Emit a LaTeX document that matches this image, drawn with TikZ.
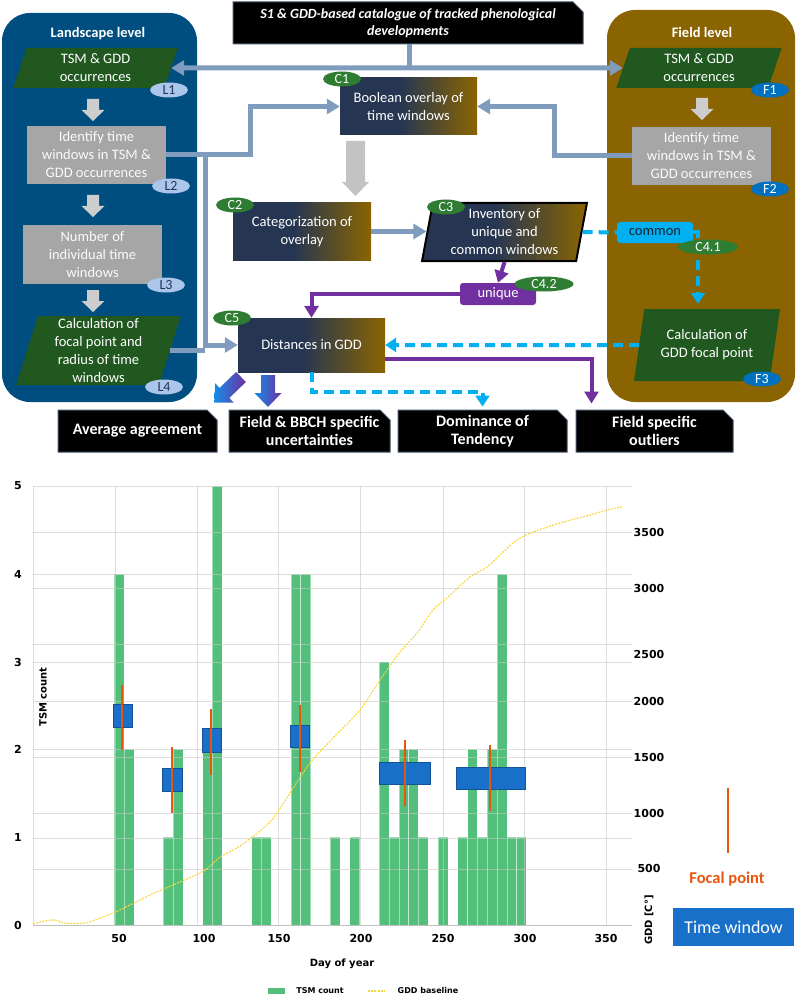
\documentclass[tikz,border=0pt]{standalone}
\usepackage{fontspec}
\setmainfont{Carlito}
\newfontfamily\chartfont{DejaVu Sans}
\usetikzlibrary{arrows.meta,shapes.geometric,shapes.misc}

\definecolor{landblue}{RGB}{0,77,128}
\definecolor{fieldbrown}{RGB}{138,100,0}
\definecolor{leafgreen}{RGB}{32,88,32}
\definecolor{boxgrey}{RGB}{166,166,166}
\definecolor{arrowgrey}{RGB}{205,205,205}
\definecolor{tagblue}{RGB}{170,198,234}
\definecolor{tagdeep}{RGB}{0,112,192}
\definecolor{taggreen}{RGB}{46,125,50}
\definecolor{linkblue}{RGB}{127,156,190}
\definecolor{linkpurple}{RGB}{112,48,160}
\definecolor{linkcyan}{RGB}{0,176,240}
\definecolor{mixnavy}{RGB}{38,54,82}
\definecolor{outline}{RGB}{68,84,106}
\definecolor{tsmgreen}{RGB}{82,192,122}
\definecolor{gddyellow}{RGB}{246,214,60}
\definecolor{windowblue}{RGB}{24,112,200}
\definecolor{focalorange}{RGB}{232,85,15}
\definecolor{gradblue}{RGB}{20,140,230}

\pgfdeclarehorizontalshading{navytobrown}{100bp}{color(0bp)=(mixnavy); color(25bp)=(mixnavy); color(47bp)=(mixnavy); color(75bp)=(fieldbrown); color(100bp)=(fieldbrown)}

\newcommand\boxfont{\fontsize{14.5}{18}\selectfont}
% block arrow: [style](tail)(angle:length:shaft:head width:head length)
\def\blockarrow[#1](#2)(#3:#4:#5:#6:#7){\path[#1, shift={(#2)}, rotate=#3] (0,{-#5/2}) -- ({#4-#7},{-#5/2}) -- ({#4-#7},{-#6/2}) -- (#4,0) -- ({#4-#7},{#6/2}) -- ({#4-#7},{#5/2}) -- (0,{#5/2}) -- cycle;}

\tikzset{
  databox/.style={trapezium, trapezium left angle=76, trapezium right angle=104, trapezium stretches=true, fill=leafgreen, text=white, align=center, inner sep=0pt, font=\boxfont},
  greybox/.style={rectangle, fill=boxgrey, text=white!94!boxgrey, align=center, inner sep=0pt, font=\boxfont},
  mixbox/.style={rectangle, shading=navytobrown, text=white, align=center, inner sep=0pt, font=\boxfont},
  tag/.style={ellipse, inner sep=0pt, minimum width=38pt, minimum height=15pt, font=\fontsize{14}{14}\selectfont},
  tagL/.style={tag, fill=tagblue, text=mixnavy},
  tagF/.style={tag, fill=tagdeep, text=white},
  tagC/.style={tag, fill=taggreen, text=white},
  outbox/.style={chamfered rectangle, chamfered rectangle corners=north east, chamfered rectangle xsep=5pt, chamfered rectangle ysep=5pt, fill=black, draw=outline, line width=1pt, text=white, align=center, inner sep=0pt, minimum height=42pt, font=\bfseries\fontsize{16}{18}\selectfont},
  gradfill/.style={left color=gradblue, right color=linkpurple},
  pipe/.style={draw=linkblue, line width=5pt, -{Triangle[length=13pt,width=15pt]}},
  purp/.style={draw=linkpurple, line width=4pt, -{Triangle[length=12pt,width=14pt]}},
  cyandash/.style={draw=linkcyan, line width=4pt, dash pattern=on 10pt off 6pt, -{Triangle[length=11pt,width=14pt]}},
  gridline/.style={draw=black!22, opacity=0.6, line width=0.8pt},
  focal/.style={draw=focalorange, line width=2.6pt},
  window/.style={fill=windowblue, draw=windowblue!75!black, line width=0.8pt},
  axisnum/.style={font=\chartfont\bfseries\fontsize{11}{11}\selectfont, inner sep=0pt},
  axistitle/.style={font=\chartfont\bfseries\fontsize{10}{10}\selectfont, inner sep=0pt}
}

\begin{document}
\begin{tikzpicture}[x=1pt,y=-1pt]
%%%%% FRAME %%%%%
\useasboundingbox (0,0) rectangle (796,1000);

%%%%% PANELS %%%%%
\fill[landblue, rounded corners=28pt] (2,13) rectangle (197,402);
\fill[fieldbrown, rounded corners=28pt] (607,10) rectangle (795,402);
\node[text=white, font=\bfseries\fontsize{14.5}{17}\selectfont] (landtitle) at (98,34) {Landscape level};
\node[text=white, font=\bfseries\fontsize{14.5}{17}\selectfont] (fieldtitle) at (702,32) {Field level};

\node[outbox, minimum width=350pt, font=\bfseries\itshape\fontsize{14}{17}\selectfont] (catalog) at (408,23) {S1 \& GDD-based catalogue of tracked phenological\\developments};

%%%%% LANDSCAPE LEVEL %%%%%
\node[databox, minimum width=165pt, minimum height=40pt] (l1) at (95.5,68) {TSM \& GDD\\occurrences};
\node[greybox, minimum width=139pt, minimum height=58pt] (l2) at (96.5,155) {Identify time\\windows in TSM \&\\GDD occurrences};
\node[greybox, minimum width=139pt, minimum height=59pt] (l3) at (92.5,254.5) {Number of\\individual time\\windows};
\node[databox, minimum width=165pt, minimum height=69pt] (l4) at (98.5,350.5) {Calculation of\\focal point and\\radius of time\\windows};
\blockarrow[fill=arrowgrey](93,99)(-90:22:12:23:11)
\blockarrow[fill=arrowgrey](93,195)(-90:22:12:23:11)
\blockarrow[fill=arrowgrey](93,290)(-90:22:12:23:11)
\node[tagL] (tl1) at (169,90) {L1};
\node[tagL] (tl2) at (171,186) {L2};
\node[tagL] (tl3) at (166,285) {L3};
\node[tagL] (tl4) at (164,387) {L4};

%%%%% FIELD LEVEL %%%%%
\node[databox, minimum width=166pt, minimum height=40pt] (f1) at (699,68) {TSM \& GDD\\occurrences};
\node[greybox, minimum width=139pt, minimum height=58pt] (f2) at (701.5,156) {Identify time\\windows in TSM \&\\GDD occurrences};
\node[databox, minimum width=146pt, minimum height=72pt] (f3) at (707,345) {Calculation of\\GDD focal point};
\blockarrow[fill=arrowgrey](702,98)(-90:22:12:23:11)
\node[tagF] (tf1) at (770,90) {F1};
\node[tagF] (tf2) at (770,189) {F2};
\node[tagF] (tf3) at (762,379) {F3};

%%%%% COMBINATION %%%%%
\node[mixbox, minimum width=137pt, minimum height=57pt] (c1) at (408.5,106.5) {Boolean overlay of\\time windows};
\node[mixbox, minimum width=138pt, minimum height=57pt] (c2) at (302,231.5) {Categorization of\\overlay};
\node[trapezium, trapezium left angle=80, trapezium right angle=100, trapezium stretches=true, shading=navytobrown, draw=black, line width=2pt, text=white, align=center, inner sep=0pt, font=\boxfont, minimum width=165pt, minimum height=58pt] (c3) at (504.5,232) {Inventory of\\unique and\\common windows};
\node[mixbox, minimum width=147pt, minimum height=54pt] (c5) at (311.5,345) {Distances in GDD};
\node[rectangle, rounded corners=3pt, fill=linkcyan, text=mixnavy!60!black, inner sep=0pt, minimum width=76pt, minimum height=21pt, font=\boxfont] (common) at (655,232.5) {common};
\node[rectangle, rounded corners=3pt, fill=linkpurple, text=white, inner sep=0pt, minimum width=76pt, minimum height=22pt, font=\boxfont] (unique) at (498,294) {unique};
\blockarrow[fill=arrowgrey!95!black](355.5,141)(-90:55:19:27:14)

%%%%% OUTPUTS %%%%%
\node[outbox, minimum width=159pt] (outavg) at (137.5,431) {Average agreement};
\node[outbox, minimum width=161pt] (outunc) at (309.5,431) {Field \& BBCH specific\\uncertainties};
\node[outbox, minimum width=169pt] (outdom) at (482.5,431) {Dominance of\\Tendency};
\node[outbox, minimum width=157pt] (outlier) at (654.5,431) {Field specific\\outliers};

%%%%% CONNECTORS %%%%%
\coordinate (hub) at (409,68);
\coordinate (split) at (205,155);
\draw[pipe, -] (catalog.south -| hub) -- (hub);
\draw[pipe] (hub) -- (l1.east);
\draw[pipe] (hub) -- (f1.west);
\draw[pipe] (l2.east) -- ++(84,0) |- (c1.west);
\draw[pipe] (split) |- (c5.west);
\draw[pipe, -] (l2.east) -- (split);
\draw[pipe, -] (l4.east) -- (l4.east -| split);
\draw[pipe] (f2.west) -- ++(-77,0) |- (c1.east);
\draw[pipe] (c2.east) -- (c2.east -| c3.west);

\draw[purp] (c3.south) -- (unique.north);
\draw[purp] (unique.west) -| (c5.north);
\draw[purp] ([yshift=-14pt]c5.east) -| ([xshift=16pt,yshift=6pt]outlier.north west);

\draw[cyandash, -] (c3.east) -- (common.west);
\draw[cyandash, shorten >=5pt] (common.east) -| ([xshift=-9pt]f3.north);
\draw[cyandash] (f3.west) -- (c5.east);
\draw[cyandash, shorten >=3pt] (c5.south) -- ++(0,20) -| (outdom.north);

\blockarrow[gradfill](241,377)(-136:37:14:27:14)
\blockarrow[gradfill](268,375)(-90:32:14:27:14)

%%%%% TAGS %%%%%
\node[tagC] (tc1) at (342,79) {C1};
\node[tagC] (tc2) at (235,205) {C2};
\node[tagC] (tc3) at (446,207) {C3};
\node[tagC] (tc5) at (232,318) {C5};
\node[tagC, minimum width=60pt] (tc41) at (708,247) {C4.1};
\node[tagC, minimum width=59pt] (tc42) at (544,284) {C4.2};

%%%%% CHART %%%%%
\foreach \k/\h in {0/4,1/2,5/1,6/2,9/2,10/5,14/1,15/1,18/4,19/4,22/1,24/1,27/3,28/1,29/2,30/2,31/1,33/1,35/1,36/2,37/1,38/2,39/4,40/1,41/1}
  \filldraw[fill=tsmgreen, draw=white, draw opacity=0.45, line width=0.6pt] ({33.2+1.636*(49.5+6*\k)},925) rectangle ({33.2+1.636*(55.5+6*\k)},{925-87.8*\h});

\foreach \gy in {486,532,574,588,644,662,701,749,757,813,838,869}
  \draw[gridline] (33,\gy) -- (632,\gy);
\foreach \gx in {33,115,197,278,360,443,524,606}
  \draw[gridline] (\gx,486) -- (\gx,925);
\draw[draw=black!25, line width=1pt] (33,925) -- (632,925);

\draw[gddyellow, line width=1.1pt, dash pattern=on 2pt off 1.2pt] plot[smooth] coordinates {(33,924) (45,921) (55,920) (65,923) (85,923) (100,918) (120,910) (150,895) (180,882) (205,870) (220,857) (240,846) (270,822) (290,793) (310,763) (333,738) (360,710) (380,680) (400,652) (417,633) (433,610) (447,598) (470,577) (487,567) (503,552) (517,540) (533,532) (560,523) (590,515) (607,510) (622,507)};

\draw[window] (113,704) rectangle (132,727);
\draw[window] (162,768) rectangle (182,791);
\draw[window] (202,728) rectangle (221,752);
\draw[window] (290,725) rectangle (309,747);
\draw[window] (379,762) rectangle (430,784);
\draw[window] (456,767) rectangle (525,789);
\draw[focal] (122,685) -- (122,750);
\draw[focal] (172,747) -- (172,813);
\draw[focal] (211,709) -- (211,775);
\draw[focal] (300,705) -- (300,772);
\draw[focal] (405,740) -- (405,806);
\draw[focal] (490,745) -- (490,811);

%%%%% AXES %%%%%
\foreach \v/\yy in {0/925,1/837,2/749,3/662,4/574,5/486}
  \node[axisnum] (yl\v) at (18,\yy) {\v};
\foreach \v/\xx in {50/119,100/204,150/279,200/361,250/443,300/525,350/606}
  \node[axisnum] (xl\v) at (\xx,938) {\v};
\foreach \v/\yy in {500/868,1000/813,1500/757,2000/701,2500/654,3000/588,3500/532}
  \node[axisnum] (gl\v) at (649,\yy) {\v};
\node[axistitle, rotate=90] (ytitle) at (43,697) {TSM count};
\node[axistitle, rotate=90] (gtitle) at (649,920) {GDD [C°]};
\node[axistitle] (xtitle) at (342,964) {Day of year};

%%%%% LEGEND %%%%%
\fill[tsmgreen] (268,988) rectangle (285,994);
\node[font=\chartfont\bfseries\fontsize{8}{8}\selectfont, inner sep=0pt] (legtsm) at (320,991) {TSM count};
\draw[gddyellow, line width=1.1pt, dash pattern=on 2pt off 1.2pt] (368,991) -- (385,991);
\node[font=\chartfont\bfseries\fontsize{8}{8}\selectfont, inner sep=0pt] (leggdd) at (428,991) {GDD baseline};

\draw[focal] (728,788) -- (728,853);
\node[text=focalorange, font=\bfseries\fontsize{16.5}{18}\selectfont] (legfocal) at (727,879) {Focal point};
\node[fill=windowblue, text=white, minimum width=121pt, minimum height=38pt, inner sep=0pt, font=\fontsize{18}{20}\selectfont] (legwindow) at (733.5,927) {Time window};
\end{tikzpicture}
\end{document}
